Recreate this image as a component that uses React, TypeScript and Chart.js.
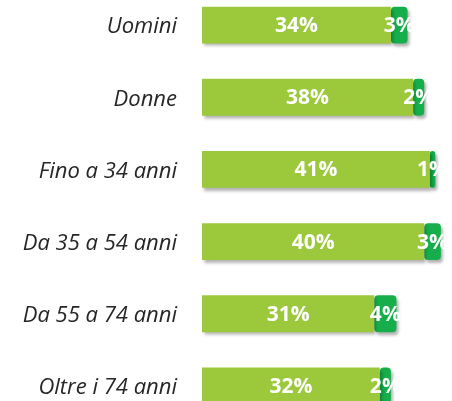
import React, { useEffect, useRef } from "react";
import { Chart, registerables } from "chart.js";

Chart.register(...registerables);

const categories = ["Uomini", "Donne", "Fino a 34 anni", "Da 35 a 54 anni", "Da 55 a 74 anni", "Oltre i 74 anni"];
const mainValues = [34, 38, 41, 40, 31, 32];
const extraValues = [3, 2, 1, 3, 4, 2];

const labelPlugin = {
  id: "segLabels",
  afterDatasetsDraw(chart: any) {
    const ctx = chart.ctx;
    ctx.save();
    ctx.fillStyle = "#ffffff";
    ctx.font = "bold 21px 'Open Sans'";
    ctx.textAlign = "center";
    ctx.textBaseline = "middle";
    chart.data.datasets.forEach((ds: any, di: number) => {
      const meta = chart.getDatasetMeta(di);
      meta.data.forEach((bar: any, i: number) => {
        const x = (bar.x + bar.base) / 2;
        ctx.fillText(ds.data[i] + "%", x, bar.y + 1);
      });
    });
    // category labels
    const yScale = chart.scales.y;
    ctx.fillStyle = "#262626";
    ctx.font = "italic 22px 'Open Sans'";
    ctx.textAlign = "right";
    chart.data.labels.forEach((lab: string, i: number) => {
      const y = yScale.getPixelForValue(i);
      ctx.fillText(lab, chart.chartArea.left - 25, y + 2);
    });
    ctx.restore();
  },
};

const shadowPlugin = {
  id: "barShadow",
  beforeDatasetsDraw(chart: any) {
    const ctx = chart.ctx;
    ctx.save();
    ctx.shadowColor = "rgba(0,0,0,0.3)";
    ctx.shadowOffsetX = 2;
    ctx.shadowOffsetY = 3;
    ctx.shadowBlur = 3;
  },
  afterDatasetsDraw(chart: any) {
    chart.ctx.restore();
  },
};

export default function App() {
  const ref = useRef<HTMLCanvasElement | null>(null);
  useEffect(() => {
    if (!ref.current) return;
    const chart = new Chart(ref.current, {
      type: "bar",
      data: {
        labels: categories,
        datasets: [
          {
            data: mainValues,
            backgroundColor: "#9BC93B",
            borderSkipped: false,
            barPercentage: 0.51,
            categoryPercentage: 1,
          },
          {
            data: extraValues,
            backgroundColor: "#15AE4B",
            borderRadius: 4,
            borderSkipped: false,
            barPercentage: 0.51,
            categoryPercentage: 1,
          },
        ],
      },
      options: {
        indexAxis: "y",
        animation: false,
        responsive: false,
        maintainAspectRatio: false,
        layout: { padding: { left: 202, right: 0, top: 0, bottom: 0 } },
        plugins: { legend: { display: false }, tooltip: { enabled: false } },
        scales: {
          x: {
            stacked: true,
            min: 0,
            max: 45,
            display: false,
          },
          y: {
            stacked: true,
            display: false,
          },
        },
      },
      plugins: [shadowPlugin, labelPlugin],
    });
    return () => chart.destroy();
  }, []);
  return (
    <div style={{ position: "absolute", left: 0, top: -11, width: 452, height: 433 }}>
      <canvas ref={ref} width={452} height={433} style={{ display: "block", width: 452, height: 433 }} />
    </div>
  );
}
